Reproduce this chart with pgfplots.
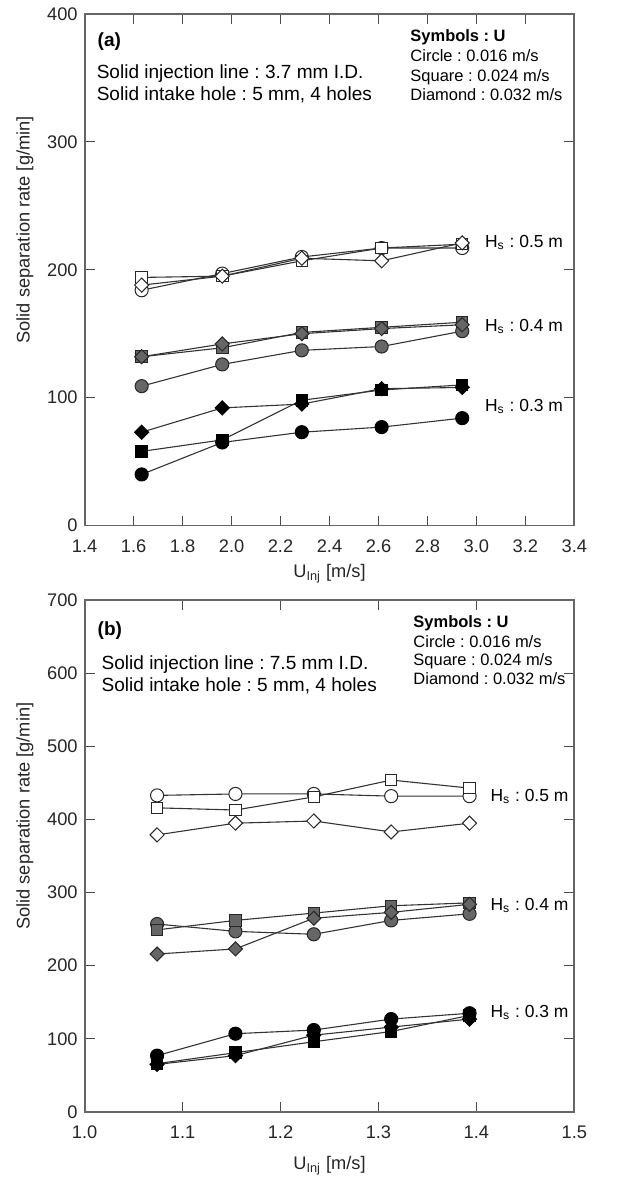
\documentclass[border=0pt]{standalone}
\usepackage{fontspec}
\setmainfont{Liberation Sans}
\usepackage{pgfplots}
\pgfplotsset{compat=1.18}
\frenchspacing

\pgfplotsset{
  panel/.style={
    scale only axis, width=246bp, height=257bp,
    axis line style={draw=black!60, line width=0.9bp},
    tick style={draw=black!70, line width=0.6bp},
    major tick length=5bp,
    tick align=inside,
    font=\fontsize{9.4}{11}\selectfont,
    tick label style={font=\fontsize{9.2}{11}\selectfont, text=black!85},
    xticklabel style={yshift=-3.5bp},
    /pgf/number format/assume math mode=true,
    ylabel={Solid separation rate [g/min]},
    ylabel style={at={(axis description cs:-0.122,0.578)}, anchor=center,
                  font=\fontsize{9.2}{11}\selectfont, text=black!85},
    xlabel={U\textsubscript{Inj} [m/s]},
    xlabel style={font=\fontsize{9.2}{11}\selectfont, text=black!85},
    every axis plot/.append style={line width=0.55bp, draw=black!80},
  },
  mk circ/.style={mark=*, mark size=3.3bp},
  mk sq/.style={mark=square*, mark size=2.9bp},
  mk dia/.style={mark=square*, mark size=2.5bp,
                 every mark/.append style={rotate=45}},
  h3/.style={every mark/.append style={fill=black, draw=black, line width=0.5bp}},
  h4/.style={every mark/.append style={fill=black!60, draw=black!85, line width=0.5bp}},
  h5/.style={every mark/.append style={fill=white, draw=black!85, line width=0.5bp}},
}
\newcommand{\txt}{\fontsize{9.6}{11}\selectfont}
\newcommand{\hs}{\fontsize{8.8}{11}\selectfont}
\newcommand{\sym}{\fontsize{8.3}{10}\selectfont}

\begin{document}
\begin{tikzpicture}

% ---- panel (a)
\begin{axis}[panel, at={(0,0)}, anchor=south west,
  xmin=1.4, xmax=3.4, ymin=0, ymax=400,
  xtick={1.4,1.6,...,3.41}, ytick={0,100,...,400},
  xticklabel style={/pgf/number format/.cd, fixed, fixed zerofill, precision=1},
  xlabel style={at={(axis description cs:0.5,0)}, anchor=base, yshift=-26bp},
]
% Hs = 0.5 m (open)
\addplot[mk circ, h5] coordinates {(1.633,184) (1.962,197) (2.287,210) (2.613,217) (2.942,217)};
\addplot[mk sq, h5] coordinates {(1.633,194) (1.962,195) (2.287,207) (2.613,217) (2.942,220)};
\addplot[mk dia, h5] coordinates {(1.633,188) (1.962,195) (2.287,209) (2.613,207) (2.942,221)};
% Hs = 0.4 m (grey)
\addplot[mk circ, h4] coordinates {(1.633,109) (1.962,126) (2.287,137) (2.613,140) (2.942,152)};
\addplot[mk sq, h4] coordinates {(1.633,132) (1.962,139) (2.287,151) (2.613,155) (2.942,159)};
\addplot[mk dia, h4] coordinates {(1.633,132) (1.962,142) (2.287,150) (2.613,154) (2.942,157)};
% Hs = 0.3 m (filled)
\addplot[mk circ, h3] coordinates {(1.633,40) (1.962,65) (2.287,73) (2.613,77) (2.942,84)};
\addplot[mk sq, h3] coordinates {(1.633,58) (1.962,67) (2.287,98) (2.613,106) (2.942,110)};
\addplot[mk dia, h3] coordinates {(1.633,73) (1.962,92) (2.287,95) (2.613,107) (2.942,108)};

\node[anchor=west, inner sep=0pt, font=\txt\bfseries] at (rel axis cs:0.026,0.9455) {(a)};
\node[anchor=base west, inner sep=0pt, font=\txt] at (rel axis cs:0.024,0.8735) {Solid injection line : 3.7 mm I.D.};
\node[anchor=base west, inner sep=0pt, font=\txt] at (rel axis cs:0.024,0.8307) {Solid intake hole : 5 mm, 4 holes};
\node[anchor=base west, inner sep=0pt, font=\sym\bfseries] at (rel axis cs:0.6646,0.946) {Symbols : U};
\node[anchor=base west, inner sep=0pt, font=\sym] at (rel axis cs:0.6646,0.9072) {Circle : 0.016 m/s};
\node[anchor=base west, inner sep=0pt, font=\sym] at (rel axis cs:0.6646,0.8683) {Square : 0.024 m/s};
\node[anchor=base west, inner sep=0pt, font=\sym] at (rel axis cs:0.6646,0.8314) {Diamond : 0.032 m/s};
\node[anchor=west, inner sep=0pt, font=\hs] at (axis cs:3.034,221) {H\textsubscript{s} : 0.5 m};
\node[anchor=west, inner sep=0pt, font=\hs] at (axis cs:3.034,155.7) {H\textsubscript{s} : 0.4 m};
\node[anchor=west, inner sep=0pt, font=\hs] at (axis cs:3.034,93.3) {H\textsubscript{s} : 0.3 m};
\end{axis}

% ---- panel (b)
\begin{axis}[panel, at={(0,-294.5bp)}, anchor=south west,
  xmin=1.0, xmax=1.5, ymin=0, ymax=700,
  xtick={1.0,1.1,...,1.51}, ytick={0,100,...,700},
  xticklabel style={/pgf/number format/.cd, fixed, fixed zerofill, precision=1},
  xlabel style={at={(axis description cs:0.5,0)}, anchor=base, yshift=-29bp},
]
% Hs = 0.5 m (open)
\addplot[mk circ, h5] coordinates {(1.074,433) (1.154,435) (1.234,435) (1.313,432) (1.393,432)};
\addplot[mk sq, h5] coordinates {(1.074,416) (1.154,413) (1.234,431) (1.313,454) (1.393,443)};
\addplot[mk dia, h5] coordinates {(1.074,379) (1.154,395) (1.234,398) (1.313,383) (1.393,395)};
% Hs = 0.4 m (grey)
\addplot[mk circ, h4] coordinates {(1.074,257) (1.154,247) (1.234,243) (1.313,262) (1.393,271)};
\addplot[mk sq, h4] coordinates {(1.074,249) (1.154,262) (1.234,272) (1.313,282) (1.393,286)};
\addplot[mk dia, h4] coordinates {(1.074,216) (1.154,223) (1.234,265) (1.313,273) (1.393,284)};
% Hs = 0.3 m (filled)
\addplot[mk circ, h3] coordinates {(1.074,77) (1.154,107) (1.234,112) (1.313,127) (1.393,135)};
\addplot[mk sq, h3] coordinates {(1.074,66) (1.154,81) (1.234,96) (1.313,110) (1.393,132)};
\addplot[mk dia, h3] coordinates {(1.074,65) (1.154,77) (1.234,105) (1.313,116) (1.393,127)};

\node[anchor=west, inner sep=0pt, font=\txt\bfseries] at (rel axis cs:0.026,0.9416) {(b)};
\node[anchor=base west, inner sep=0pt, font=\txt] at (rel axis cs:0.034,0.8638) {Solid injection line : 7.5 mm I.D.};
\node[anchor=base west, inner sep=0pt, font=\txt] at (rel axis cs:0.034,0.821) {Solid intake hole : 5 mm, 4 holes};
\node[anchor=base west, inner sep=0pt, font=\sym\bfseries] at (rel axis cs:0.6707,0.9475) {Symbols : U};
\node[anchor=base west, inner sep=0pt, font=\sym] at (rel axis cs:0.6707,0.9086) {Circle : 0.016 m/s};
\node[anchor=base west, inner sep=0pt, font=\sym] at (rel axis cs:0.6707,0.8716) {Square : 0.024 m/s};
\node[anchor=base west, inner sep=0pt, font=\sym] at (rel axis cs:0.6707,0.8346) {Diamond : 0.032 m/s};
\node[anchor=west, inner sep=0pt, font=\hs] at (axis cs:1.414,431.7) {H\textsubscript{s} : 0.5 m};
\node[anchor=west, inner sep=0pt, font=\hs] at (axis cs:1.414,282) {H\textsubscript{s} : 0.4 m};
\node[anchor=west, inner sep=0pt, font=\hs] at (axis cs:1.414,136.6) {H\textsubscript{s} : 0.3 m};
\end{axis}

\path (-42.5bp,-327bp) rectangle (271.5bp,264bp);
\end{tikzpicture}
\end{document}
